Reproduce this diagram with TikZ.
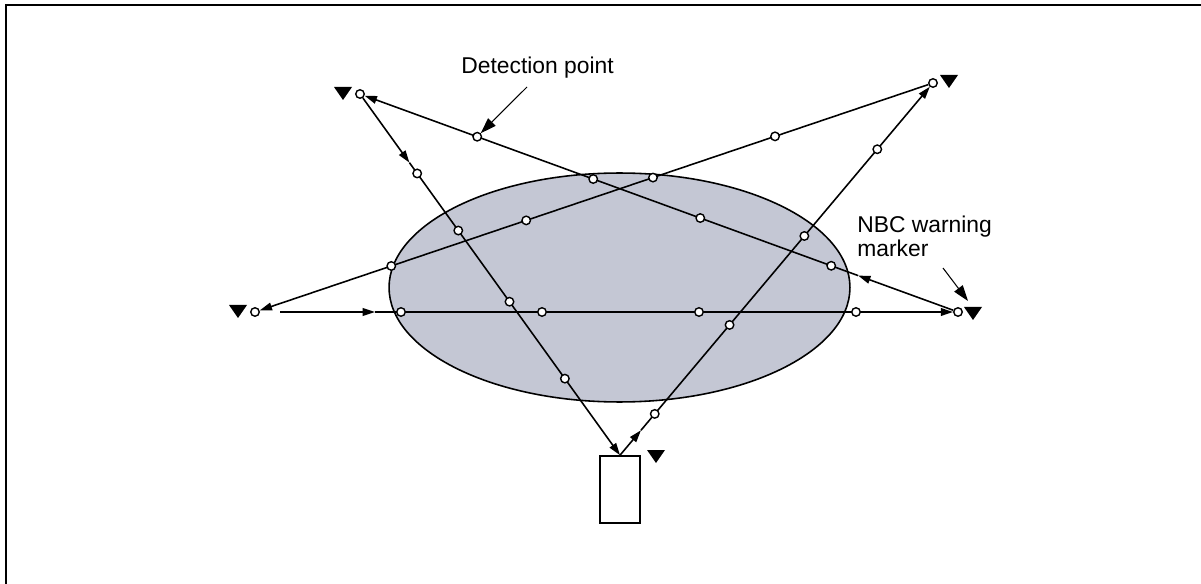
\documentclass[tikz,border=0pt]{standalone}
\usepackage{fontspec}
\setmainfont{Liberation Sans}
\usetikzlibrary{arrows.meta,shapes.geometric,calc}
\definecolor{zonefill}{RGB}{196,199,212}
\begin{document}
\begin{tikzpicture}[x=0.02cm,y=-0.02cm,
  ln/.style={line width=0.9pt},
  arr/.style={ln,-{Triangle[length=7pt,width=4.4pt]}},
  det/.style={circle,draw,line width=0.8pt,fill=white,inner sep=0pt,minimum size=0.17cm},
  zone/.style={ellipse,draw,line width=0.9pt,fill=zonefill,inner sep=0pt,minimum width=9.22cm,minimum height=4.58cm},
  unitbox/.style={draw,line width=0.9pt,inner sep=0pt,minimum width=0.8cm,minimum height=1.34cm},
  lbl/.style={font=\fontsize{13}{15}\selectfont,inner sep=0pt},
  callout/.style={line width=0.6pt,-{Triangle[length=9pt,width=6pt]}},
  nbcmark/.pic={\fill (-9,-6) -- (9,-6) -- (0,7) -- cycle;}
]
\useasboundingbox (0,0) rectangle (1201,584);
\draw[line width=1.2pt] (6,584) -- (6,5) -- (1201,5);

% contaminated zone
\node[zone] (zone) at (619.5,287.5) {};

% stations
\node[det] (sA) at (360,94) {};
\node[det] (sB) at (933,83) {};
\node[det] (sC) at (255,312) {};
\node[det] (sD) at (958,312) {};
\node[unitbox] (box) at (620,489.5) {};

% NBC warning markers
\coordinate (tA) at (343,93);
\coordinate (tB) at (949,81);
\coordinate (tC) at (238,311);
\coordinate (tD) at (973,313);
\coordinate (tE) at (656,456);
\foreach \t in {tA,tB,tC,tD,tE} \pic at (\t) {nbcmark};

% route 1: A -> box
\coordinate (m1) at ($(sA)!0.19!(box.north)$);
\draw[arr] (sA) -- (m1);
\draw[arr] (m1) -- (box.north);
% route 2: box -> B
\coordinate (m2) at ($(box.north)!0.067!(sB)$);
\draw[arr] (box.north) -- (m2);
\draw[arr] (m2) -- (sB);
% route 3: D -> A
\coordinate (m3) at ($(sD)!0.167!(sA)$);
\draw[arr] (sD) -- (m3);
\draw[arr] (m3) -- (sA);
% route 4: B -> C
\draw[arr] (sB) -- (sC);
% route 5: C -> D
\coordinate (c5) at (280,312);
\coordinate (m5) at (375,312);
\draw[arr] (c5) -- (m5);
\draw[arr] (m5) -- (sD);

% detection points
\node[det] (d11) at ($(sA)!0.22!(box.north)$) {};
\node[det] (d12) at ($(sA)!0.378!(box.north)$) {};
\node[det] (d13) at ($(sA)!0.575!(box.north)$) {};
\node[det] (d14) at ($(sA)!0.788!(box.north)$) {};
\node[det] (d21) at ($(box.north)!0.111!(sB)$) {};
\node[det] (d22) at ($(box.north)!0.35!(sB)$) {};
\node[det] (d23) at ($(box.north)!0.589!(sB)$) {};
\node[det] (d24) at ($(box.north)!0.822!(sB)$) {};
\node[det] (d31) at ($(sD)!0.212!(sA)$) {};
\node[det] (d32) at ($(sD)!0.431!(sA)$) {};
\node[det] (d33) at ($(sD)!0.61!(sA)$) {};
\node[det] (d34) at ($(sD)!0.804!(sA)$) {};
\node[det] (d41) at ($(sB)!0.233!(sC)$) {};
\node[det] (d42) at ($(sB)!0.413!(sC)$) {};
\node[det] (d43) at ($(sB)!0.6!(sC)$) {};
\node[det] (d44) at ($(sB)!0.799!(sC)$) {};
\node[det] (d51) at (401,312) {};
\node[det] (d52) at (542,312) {};
\node[det] (d53) at (699,312) {};
\node[det] (d54) at (856,312) {};

% labels
\node[lbl,anchor=base west] (dettxt) at (461,74) {Detection point};
\coordinate (dtail) at (527,87);
\draw[callout] (dtail) -- (d34);
\node[lbl,anchor=base west] (nbc1) at (857,233) {NBC warning};
\node[lbl,anchor=base west] (nbc2) at (857,257) {marker};
\coordinate (ntail) at (943,268);
\coordinate (ntip) at (968,301);
\draw[callout] (ntail) -- (ntip);
\end{tikzpicture}
\end{document}
